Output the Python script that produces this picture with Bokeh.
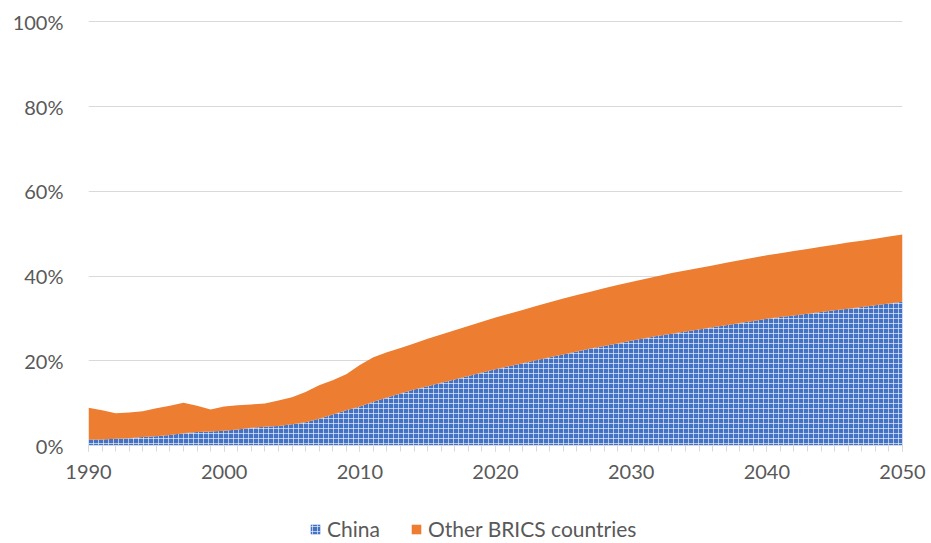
from bokeh.plotting import figure
from bokeh.layouts import column
from bokeh.models import ColumnDataSource, FixedTicker, NumeralTickFormatter, Legend, LegendItem, Range1d
from bokeh.embed import file_html
from bokeh.resources import INLINE

# Share of world total, in percent, 1990-2050
years = list(range(1990, 2051))
china = [1.4, 1.4, 1.6, 1.7, 2.0, 2.2, 2.5, 2.9, 3.2, 3.3,
         3.5, 3.8, 4.2, 4.4, 4.6, 5.0, 5.5, 6.3, 7.3, 8.3,
         9.2, 10.3, 11.3, 12.3, 13.2, 14.0, 14.8, 15.6, 16.4, 17.2,
         18.0, 18.7, 19.4, 20.1, 20.8, 21.5, 22.2, 22.9, 23.5, 24.1,
         24.7, 25.3, 25.9, 26.4, 26.9, 27.4, 27.9, 28.4, 28.9, 29.4,
         29.9, 30.3, 30.7, 31.1, 31.5, 31.9, 32.3, 32.7, 33.1, 33.5,
         33.9]
other_brics = [7.5, 6.9, 6.0, 6.1, 6.1, 6.6, 6.9, 7.2, 6.2, 5.2,
               5.7, 5.7, 5.5, 5.5, 6.0, 6.4, 7.1, 7.9, 8.1, 8.5,
               9.8, 10.5, 10.7, 10.7, 10.9, 11.2, 11.4, 11.6, 11.8, 12.0,
               12.2, 12.4, 12.6, 12.8, 13.0, 13.2, 13.3, 13.4, 13.6, 13.8,
               13.9, 14.0, 14.1, 14.3, 14.4, 14.5, 14.6, 14.7, 14.8, 14.9,
               15.0, 15.1, 15.2, 15.3, 15.4, 15.5, 15.6, 15.6, 15.7, 15.8,
               15.9]
series_names = ["China", "Other BRICS countries"]
x_major = [1990, 2000, 2010, 2020, 2030, 2040, 2050]
y_major = [0, 0.2, 0.4, 0.6, 0.8, 1.0]

source = ColumnDataSource(dict(
    year=years,
    china=[v / 100 for v in china],
    other=[v / 100 for v in other_brics],
))

FONT = "Lato"
TEXT = "#595959"
GRID = "#D9D9D9"
BLUE = "#4472C4"
ORANGE = "#ED7D31"
CHINA_HATCH = dict(hatch_pattern="cross", hatch_color="white", hatch_scale=5,
                   hatch_weight=1, hatch_alpha=0.6)

p = figure(width=931, height=490, output_backend="svg", toolbar_location=None,
           x_range=Range1d(1990, 2050), y_range=Range1d(0, 1.003),
           min_border_left=88, min_border_right=29, min_border_top=20,
           min_border_bottom=45)
p.outline_line_color = None

r_china, r_other = p.varea_stack(
    ["china", "other"], x="year", source=source,
    fill_color=[BLUE, ORANGE],
)
for k, v in CHINA_HATCH.items():
    setattr(r_china.glyph, k, v)

# x axis: labels every decade, tick marks every year
xa = p.xaxis[0]
xa.ticker = FixedTicker(ticks=x_major, minor_ticks=years)
xa.axis_line_color = GRID
xa.major_tick_line_color = GRID
xa.minor_tick_line_color = GRID
xa.major_tick_in = 0
xa.minor_tick_in = 0
xa.major_tick_out = 6
xa.minor_tick_out = 6
xa.major_label_standoff = 13
xa.major_label_text_font = FONT
xa.major_label_text_font_size = "20px"
xa.major_label_text_color = TEXT

ya = p.yaxis[0]
ya.ticker = FixedTicker(ticks=y_major)
ya.formatter = NumeralTickFormatter(format="0%")
ya.axis_line_color = None
ya.major_tick_line_color = None
ya.minor_tick_line_color = None
ya.major_label_standoff = 19
ya.major_label_text_font = FONT
ya.major_label_text_font_size = "20px"
ya.major_label_text_color = TEXT

p.xgrid.grid_line_color = None
p.ygrid.grid_line_color = GRID
p.ygrid.ticker = FixedTicker(ticks=y_major)

# legend strip underneath the chart; its swatch renderers are flat
# (zero-height) areas outside the strip's ranges, so only the legend shows
lf = figure(width=931, height=53, output_backend="svg", toolbar_location=None,
            x_range=Range1d(0, 1), y_range=Range1d(0, 1),
            x_axis_location=None, y_axis_location=None,
            min_border_left=0, min_border_right=0, min_border_top=0, min_border_bottom=0)
lf.outline_line_color = None
lf.xgrid.grid_line_color = None
lf.ygrid.grid_line_color = None
lg_china = lf.varea(x="year", y1=0, y2=0, source=source, fill_color=BLUE, **CHINA_HATCH)
lg_other = lf.varea(x="year", y1=0, y2=0, source=source, fill_color=ORANGE)

legend = Legend(
    items=[LegendItem(label=series_names[0], renderers=[lg_china]),
           LegendItem(label=series_names[1], renderers=[lg_other])],
    orientation="horizontal", location=(221, 2),
    label_text_font=FONT, label_text_font_size="21px", label_text_color=TEXT,
    glyph_width=12, glyph_height=12, label_standoff=6, spacing=30,
    padding=0, margin=0, border_line_color=None, background_fill_alpha=0,
)
lf.add_layout(legend, "center")

layout = column(p, lf, spacing=0)
open("out.html", "w").write(file_html(layout, INLINE))
